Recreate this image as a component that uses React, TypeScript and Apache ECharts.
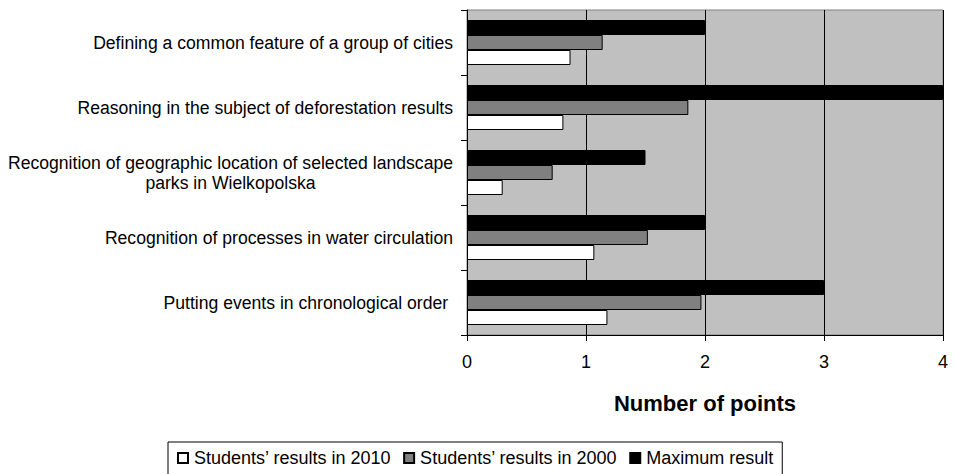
import React, { useEffect, useRef } from "react";
import * as echarts from "echarts";

const categories = [
  "Defining a common feature of a group of cities",
  "Reasoning in the subject of deforestation results",
  "Recognition of geographic location of selected landscape\nparks in Wielkopolska",
  "Recognition of processes in water circulation",
  "Putting events in chronological order ",
];
const maximumResult = [2, 4, 1.5, 2, 3];
const results2000 = [1.14, 1.86, 0.72, 1.52, 1.97];
const results2010 = [0.87, 0.81, 0.3, 1.07, 1.18];
const xTicks = [0, 1, 2, 3, 4];
const seriesNames = ["Students\u2019 results in 2010", "Students\u2019 results in 2000", "Maximum result"];

const FONT = "Liberation Sans, Arial, sans-serif";

export default function App() {
  const ref = useRef<HTMLDivElement>(null);
  useEffect(() => {
    if (!ref.current) return;
    const chart = echarts.init(ref.current, null, { renderer: "svg" });
    const barStyle = (color: string) => ({ color, borderColor: "#000", borderWidth: 1 });
    chart.setOption({
      animation: false,
      textStyle: { fontFamily: FONT, color: "#000" },
      grid: {
        left: 467,
        right: 12,
        top: 10,
        bottom: 139,
        show: true,
        backgroundColor: "#c0c0c0",
        borderColor: "#808080",
        borderWidth: 1,
      },
      legend: {
        data: seriesNames,
        left: 168,
        top: 442,
        padding: [7, 9, 12, 9],
        borderColor: "#000",
        borderWidth: 1,
        itemWidth: 10,
        itemHeight: 10,
        itemGap: 12,
        icon: "rect",
        textStyle: { fontFamily: FONT, fontSize: 18, color: "#000", padding: [0, 0, 0, 1] },
      },
      xAxis: {
        type: "value",
        min: xTicks[0],
        max: xTicks[xTicks.length - 1],
        interval: 1,
        name: "Number of points",
        nameLocation: "middle",
        nameGap: 57,
        nameTextStyle: { fontFamily: FONT, fontSize: 22, fontWeight: "bold", color: "#000" },
        axisLine: { show: true, lineStyle: { color: "#000", width: 1 } },
        axisTick: { show: true, inside: false, length: 6, lineStyle: { color: "#000" } },
        axisLabel: { fontFamily: FONT, fontSize: 18, color: "#000", margin: 18 },
        splitLine: { show: true, lineStyle: { color: "#000", width: 1 } },
      },
      yAxis: {
        type: "category",
        inverse: true,
        data: categories,
        axisLine: { show: true, lineStyle: { color: "#000", width: 1 } },
        axisTick: { show: true, inside: false, length: 6, alignWithLabel: false, lineStyle: { color: "#000" } },
        axisLabel: {
          fontFamily: FONT,
          fontSize: 17.6,
          color: "#000",
          margin: 14,
          lineHeight: 20,
          formatter: (v: string) =>
            v
              .split("\n")
              .map((s) => "{c|" + s + "}")
              .join("\n"),
          rich: { c: { align: "center", fontFamily: FONT, fontSize: 17.6, color: "#000", lineHeight: 20 } },
        },
        splitLine: { show: false },
      },
      series: [
        {
          name: seriesNames[2],
          type: "bar",
          data: maximumResult,
          barWidth: 15,
          barGap: "0%",
          itemStyle: barStyle("#000000"),
        },
        {
          name: seriesNames[1],
          type: "bar",
          data: results2000,
          barWidth: 15,
          barGap: "0%",
          itemStyle: barStyle("#808080"),
        },
        {
          name: seriesNames[0],
          type: "bar",
          data: results2010,
          barWidth: 15,
          barGap: "0%",
          itemStyle: barStyle("#ffffff"),
        },
      ],
    });
    return () => chart.dispose();
  }, []);
  return (
    <div
      ref={ref}
      style={{ position: "fixed", left: 0, top: 0, width: 955, height: 474, background: "#fff" }}
    />
  );
}
